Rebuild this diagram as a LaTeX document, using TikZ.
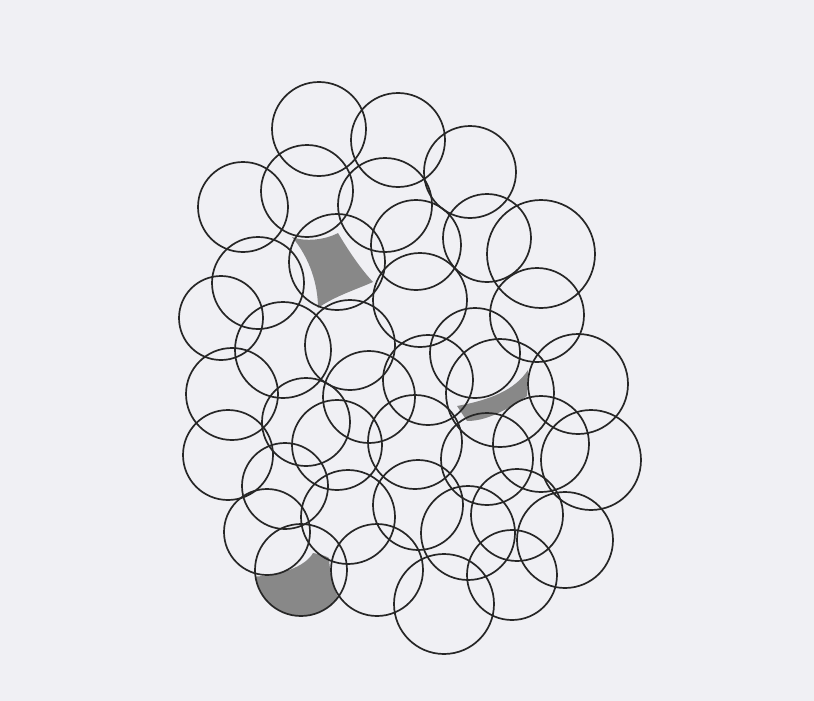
\documentclass[tikz,border=0pt]{standalone}
\definecolor{paper}{HTML}{F0F0F4}
\definecolor{pencil}{HTML}{262626}
\definecolor{shade}{HTML}{888888}
\tikzset{ring/.style={draw=pencil, line width=1.7pt},
  shadearea/.style={fill=shade}}
\begin{document}
\begin{tikzpicture}[x=1pt,y=-1pt]
\fill[paper] (0,0) rectangle (814,701);
\useasboundingbox (0,0) rectangle (814,701);
% shaded regions
\fill[shadearea] (292,237) .. controls (305,242) and (325,240) .. (338,233)
  .. controls (348,250) and (360,268) .. (373,282)
  .. controls (355,290) and (335,296) .. (318,308)
  .. controls (318,285) and (310,258) .. (292,237) -- cycle;
\fill[shadearea] (528,370) .. controls (515,390) and (490,400) .. (457,406)
  -- (467,421) .. controls (490,421) and (512,406) .. (527,396) -- cycle;
\begin{scope}
  \clip (301,570) circle (46);
  \fill[shadearea] (248,577) .. controls (280,576) and (305,567) .. (313,553)
    .. controls (320,554) and (326,556) .. (329,558)
    .. controls (330,575) and (334,590) .. (340,602)
    -- (350,630) -- (248,630) -- cycle;
\end{scope}
% circles
\foreach \cx/\cy/\r in {
 319/129/47, 398/140/47, 470/172/46,
 243/207/45, 307/191/46, 385/205/47, 487/238/44, 541/254/54,
 258/283/46, 337/262/48, 416/245/45, 420/300/47, 537/315/47,
 221/318/42, 283/350/48, 350/345/45, 475/353/45, 500/393/54, 578/384/50,
 232/394/46, 306/422/44, 369/397/46, 428/380/45, 541/444/48, 591/460/50, 487/459/46,
 228/455/45, 337/445/45, 285/486/43, 415/442/47,
 348/517/47, 267/532/43, 301/570/46, 377/570/46, 418/505/45,
 468/533/47, 517/515/46, 512/575/45, 565/540/48, 444/604/50}
 \draw[ring] (\cx,\cy) circle (\r);
\end{tikzpicture}
\end{document}
